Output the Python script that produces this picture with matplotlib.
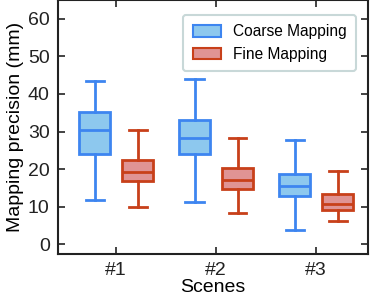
import matplotlib
matplotlib.use('Agg')
from matplotlib import pyplot as plt

plt.rcParams['font.family'] = ['Liberation Sans', 'DejaVu Sans']

scenes = ['#1', '#2', '#3']
# whislo, q1, med, q3, whishi per scene
coarse_lo = [11.7, 11.2, 3.9]
coarse_q1 = [24.0, 24.0, 12.8]
coarse_med = [30.4, 28.4, 15.4]
coarse_q3 = [35.2, 33.1, 18.8]
coarse_hi = [43.4, 44.0, 27.8]

fine_lo = [9.8, 8.4, 6.2]
fine_q1 = [16.9, 14.7, 9.0]
fine_med = [19.3, 17.0, 10.6]
fine_q3 = [22.5, 20.3, 13.3]
fine_hi = [30.5, 28.4, 19.4]

coarse_face, coarse_edge = '#8DC8EE', '#3D85F0'
fine_face, fine_edge = '#E09494', '#C8401A'


def stats(lo, q1, med, q3, hi):
    return [dict(whislo=a, q1=b, med=c, q3=d, whishi=e, fliers=[])
            for a, b, c, d, e in zip(lo, q1, med, q3, hi)]


def draw(ax, st, pos, face, edge):
    ax.bxp(st, positions=pos, widths=0.31, patch_artist=True, showfliers=False,
           capwidths=0.18,
           boxprops=dict(facecolor=face, edgecolor=edge, linewidth=2),
           medianprops=dict(color=edge, linewidth=2),
           whiskerprops=dict(color=edge, linewidth=2),
           capprops=dict(color=edge, linewidth=2))


fig = plt.figure(figsize=(3.73, 2.99), dpi=100)
ax = fig.add_axes([58 / 373, 1 - 253.7 / 299, 310 / 373, 253.7 / 299])

x = [1, 2, 3]
draw(ax, stats(coarse_lo, coarse_q1, coarse_med, coarse_q3, coarse_hi),
     [i - 0.215 for i in x], coarse_face, coarse_edge)
draw(ax, stats(fine_lo, fine_q1, fine_med, fine_q3, fine_hi),
     [i + 0.215 for i in x], fine_face, fine_edge)

ax.set_xlim(0.42, 3.52)
ax.set_ylim(-2.5, 65)
ax.set_xticks(x)
ax.set_xticklabels(scenes)
ax.set_yticks([0, 10, 20, 30, 40, 50, 60])
ax.tick_params(direction='in', top=True, right=True, length=5, width=1.2,
               labelsize=14, colors='#222222', pad=6)
for s in ax.spines.values():
    s.set_linewidth(1.5)
    s.set_color('#222222')

ax.set_xlabel('Scenes', fontsize=14, labelpad=0)
ax.set_ylabel('Mapping precision (mm)', fontsize=14, labelpad=3)

h1 = plt.Rectangle((0, 0), 1, 1, facecolor=coarse_face, edgecolor=coarse_edge, linewidth=1.5)
h2 = plt.Rectangle((0, 0), 1, 1, facecolor=fine_face, edgecolor=fine_edge, linewidth=1.5)
leg = ax.legend([h1, h2], ['Coarse Mapping', 'Fine Mapping'], loc='upper right',
                fontsize=11.2, fancybox=True, framealpha=1, edgecolor='#C8D8D8',
                bbox_to_anchor=(0.961, 0.941), borderaxespad=0,
                handlelength=1.8, handleheight=0.75, handletextpad=0.8,
                borderpad=0.6, labelspacing=0.5)
leg.get_frame().set_linewidth(1.5)

fig.savefig('out.png', dpi=100)
